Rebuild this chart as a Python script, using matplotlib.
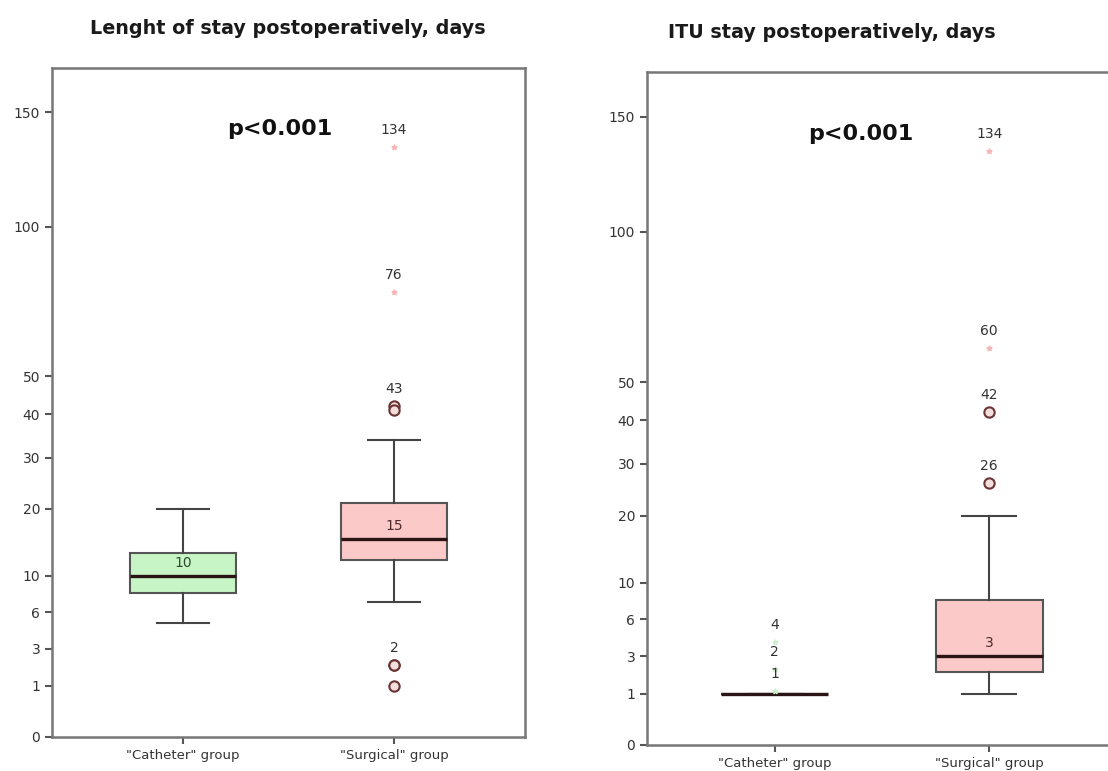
import numpy as np
import matplotlib
matplotlib.use('Agg')
import matplotlib.pyplot as plt

# --- data ---
categories = ['"Catheter" group', '"Surgical" group']
yticks = [0, 1, 3, 6, 10, 20, 30, 40, 50, 100, 150]

# box stats per group: whislo, q1, med, q3, whishi
los_catheter = [5, 8, 10, 13, 20]
los_surgical = [7, 12, 15, 21, 34]
los_circles = [42, 41, 2, 2, 1]          # outliers, surgical group
los_circle_labels = ['43', '', '2', '', '']
los_stars = [76, 134]                    # extremes, surgical group
los_star_labels = ['76', '134']

itu_catheter = [1, 1, 1, 1, 1]
itu_surgical = [1, 2, 3, 8, 20]
itu_cath_stars = [4, 2.2, 1.1]
itu_cath_star_labels = ['4', '2', '1']
itu_circles = [26, 42]
itu_circle_labels = ['26', '42']
itu_stars = [60, 134]
itu_star_labels = ['60', '134']

green = '#c8f5c6'
pink = '#fcc9c9'
edge = '#555555'


def sqrt_fwd(v):
    return np.sqrt(np.clip(v, 0, None))


def sqrt_inv(v):
    return np.square(v)


def stats(vals, label):
    lo, q1, med, q3, hi = vals
    return dict(whislo=lo, q1=q1, med=med, q3=q3, whishi=hi, fliers=[], label=label)


def label_pts(ax, x, ys, labels, color='#333333'):
    for y, lab in zip(ys, labels):
        if lab:
            ax.annotate(lab, (x, y), xytext=(0, 17), textcoords='offset pixels',
                        ha='center', va='center', fontsize=10, color=color)


def panel(ax, cath, surg, xlim, ptext_x):
    ax.set_yscale('function', functions=(sqrt_fwd, sqrt_inv))
    bp = ax.bxp([stats(cath, categories[0]), stats(surg, categories[1])],
                positions=[1, 2], widths=0.5, patch_artist=True, showfliers=False,
                boxprops=dict(edgecolor=edge, linewidth=1.5),
                whiskerprops=dict(color='#444444', linewidth=1.5),
                capprops=dict(color='#444444', linewidth=1.5),
                medianprops=dict(color='#2a1414', linewidth=2.4),
                capwidths=0.25)
    bp['boxes'][0].set_facecolor(green)
    bp['boxes'][1].set_facecolor(pink)
    ax.set_ylim(0, 172)
    ax.set_xlim(*xlim)
    ax.set_yticks(yticks)
    ax.set_yticklabels([str(t) for t in yticks])
    ax.minorticks_off()
    for s in ax.spines.values():
        s.set_color('#777777')
        s.set_linewidth(1.8)
    ax.tick_params(axis='both', direction='out', length=5, width=1.5, color='#555555',
                   labelsize=10, labelcolor='#333333')
    ax.tick_params(axis='x', labelsize=9.5)
    ax.text(ptext_x, 142, 'p<0.001', ha='center', va='center',
            fontsize=16, fontweight='bold', color='#111111')


fig = plt.figure(figsize=(11.08, 7.71), dpi=100)
ax1 = fig.add_axes([52 / 1108, 1 - 737 / 771, 473 / 1108, 669 / 771])
ax2 = fig.add_axes([647 / 1108, 1 - 745 / 771, 470 / 1108, 673 / 771])

# left: length of stay
panel(ax1, los_catheter, los_surgical, (0.38, 2.62), 1.46)
ax1.scatter([2] * len(los_circles), los_circles, s=55, facecolors='#f3dede',
            edgecolors='#6b3434', linewidths=1.5, zorder=3)
ax1.scatter([2] * len(los_stars), los_stars, s=14, marker='*', color='#f4b6b6', zorder=3)
label_pts(ax1, 2, los_circles, los_circle_labels)
label_pts(ax1, 2, los_stars, los_star_labels)
ax1.annotate(str(los_catheter[2]), (1, los_catheter[2]), xytext=(0, 13),
             textcoords='offset pixels', ha='center', va='center', fontsize=10, color='#2f4a2f')
ax1.annotate(str(los_surgical[2]), (2, los_surgical[2]), xytext=(0, 13),
             textcoords='offset pixels', ha='center', va='center', fontsize=10, color='#4a2a2a')

# right: ITU stay
panel(ax2, itu_catheter, itu_surgical, (0.405, 2.595), 1.40)
ax2.scatter([1] * len(itu_cath_stars), itu_cath_stars, s=14, marker='*', color='#cdeecd', zorder=3)
label_pts(ax2, 1, itu_cath_stars, itu_cath_star_labels)
ax2.scatter([2] * len(itu_circles), itu_circles, s=55, facecolors='#f3dede',
            edgecolors='#6b3434', linewidths=1.5, zorder=3)
ax2.scatter([2] * len(itu_stars), itu_stars, s=14, marker='*', color='#f4b6b6', zorder=3)
label_pts(ax2, 2, itu_circles, itu_circle_labels)
label_pts(ax2, 2, itu_stars, itu_star_labels)
ax2.annotate(str(itu_surgical[2]), (2, itu_surgical[2]), xytext=(0, 13),
             textcoords='offset pixels', ha='center', va='center', fontsize=10, color='#4a2a2a')

fig.text(288 / 1108, 1 - 28 / 771, 'Lenght of stay postoperatively, days', ha='center',
         va='center', fontsize=13.8, fontweight='bold', color='#1a1a1a')
fig.text(832 / 1108, 1 - 33 / 771, 'ITU stay postoperatively, days', ha='center',
         va='center', fontsize=13.8, fontweight='bold', color='#1a1a1a')

fig.savefig('out.png', dpi=100)
